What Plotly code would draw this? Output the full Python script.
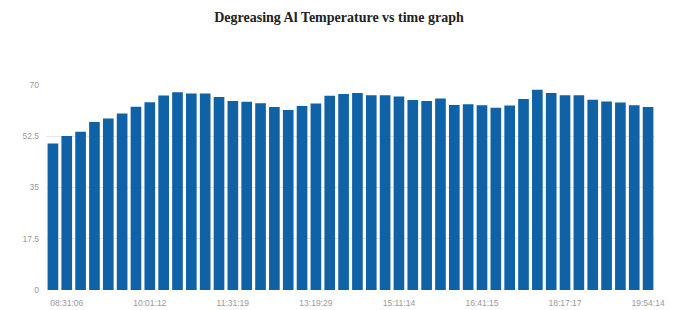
import plotly.graph_objects as go

times = [
    "08:16:05", "08:31:06", "08:46:07", "09:01:08", "09:16:09", "09:31:10",
    "09:46:11", "10:01:12", "10:16:13", "10:31:14", "10:46:15", "11:01:16",
    "11:16:17", "11:31:19", "11:49:21", "12:07:23", "12:25:25", "12:43:26",
    "13:01:28", "13:19:29", "13:38:10", "13:56:50", "14:15:30", "14:34:10",
    "14:52:52", "15:11:14", "15:26:14", "15:41:14", "15:56:15", "16:11:15",
    "16:26:15", "16:41:15", "16:57:15", "17:13:16", "17:29:16", "17:45:16",
    "18:01:17", "18:17:17", "18:33:17", "18:49:16", "19:05:16", "19:21:15",
    "19:37:15", "19:54:14",
]
temps = [
    50.0, 52.6, 54.0, 57.4, 58.6, 60.3, 62.6, 64.1, 66.4, 67.5, 67.1,
    67.1, 65.9, 64.5, 64.3, 63.8, 62.5, 61.5, 62.8, 63.7, 66.3, 66.9,
    67.3, 66.5, 66.5, 66.1, 64.9, 64.5, 65.4, 63.2, 63.4, 63.1, 62.2,
    63.0, 65.2, 68.4, 67.3, 66.5, 66.5, 65.0, 64.4, 64.0, 63.1, 62.5,
]
shown_ticks = ["08:31:06", "10:01:12", "11:31:19", "13:19:29",
               "15:11:14", "16:41:15", "18:17:17", "19:54:14"]
y_ticks = [0, 17.5, 35, 52.5, 70]
y_ticktext = ["0", "17.5", "35", "52.5", "70"]

fig = go.Figure(go.Bar(x=times, y=temps, marker_color="#0f62a6",
                       marker_line_width=0))

fig.update_layout(
    width=678, height=310,
    margin=dict(l=46, r=23, t=85, b=20, autoexpand=False),
    paper_bgcolor="white", plot_bgcolor="white",
    bargap=0.23,
    showlegend=False,
    title=dict(text="<b>Degreasing Al Temperature vs time graph</b>",
               x=0.5, xanchor="center", y=0.945, yanchor="middle",
               font=dict(family="Liberation Serif", size=14, color="#222")),
)
fig.update_xaxes(type="category", tickmode="array", tickvals=shown_ticks,
                 ticktext=shown_ticks, tickangle=0, showgrid=False,
                 showline=False, ticks="", ticklabelstandoff=6,
                 tickfont=dict(family="Liberation Sans", size=8.5, color="#999999"))
fig.update_yaxes(range=[0, 70], tickmode="array", tickvals=y_ticks,
                 ticktext=y_ticktext, showgrid=True, gridcolor="#e8e8e8",
                 gridwidth=1, zeroline=False, showline=False, ticks="",
                 ticklabelstandoff=6,
                 tickfont=dict(family="Liberation Sans", size=8.5, color="#999999"))

fig.write_html("out.html", config={"displayModeBar": False},
               post_script="document.body.style.margin='0px';document.body.style.overflow='hidden';")
